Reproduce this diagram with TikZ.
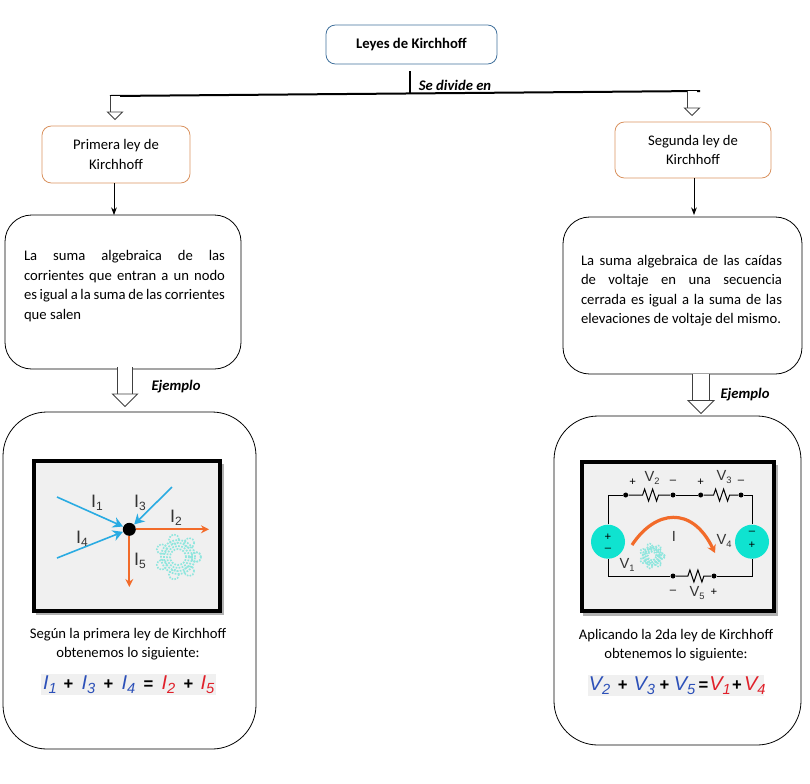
\documentclass[tikz,border=0pt]{standalone}
\usepackage{fontspec}
\setmainfont{Carlito}
\newfontfamily\arialfont{Liberation Sans}
\usetikzlibrary{arrows.meta,decorations.pathmorphing}

\def\px{.75pt}
\definecolor{azulcorr}{HTML}{29ABE2}
\definecolor{naranja}{HTML}{F26B2A}
\definecolor{turquesa}{HTML}{0FE3D0}
\definecolor{engranaje}{HTML}{8FE6DE}
\definecolor{fondo}{HTML}{F0F0F0}
\definecolor{azuleq}{HTML}{2C50B8}
\definecolor{rojoeq}{HTML}{E0202A}
\definecolor{bordeazul}{HTML}{41719C}
\definecolor{bordenaranja}{HTML}{D9925F}

\newcommand{\letra}{\fontsize{11}{14.6}\selectfont}
\newcommand{\magn}[2]{{\arialfont\color{black!80}\fontsize{13.5}{14}\selectfont #1\raisebox{-.35ex}{\fontsize{9}{9}\selectfont #2}}}
\newcommand{\volt}[1]{{\arialfont\color{black!80}\fontsize{11}{12}\selectfont V\raisebox{-.4ex}{\fontsize{7}{7}\selectfont #1}}}
\newcommand{\eqterm}[3]{{\arialfont\fontsize{15}{16}\selectfont\itshape\textcolor{#1}{#2\raisebox{-.35ex}{\fontsize{11}{11}\selectfont #3}}}}
\newcommand{\eqop}[1]{{\arialfont\fontsize{12.5}{16}\selectfont\bfseries #1}}
\newcommand{\celda}[2]{\makebox[.75\dimexpr#1pt\relax]{#2}}

\tikzset{
    titulo/.style={draw=bordeazul, rounded corners=7pt, outer sep=0pt, inner sep=0pt, align=center, font=\letra\bfseries},
    ley/.style={draw=bordenaranja, rounded corners=7pt, outer sep=0pt, inner sep=0pt, align=center, font=\letra},
    cuadro/.style={draw=black, rounded corners=20pt, outer sep=0pt, inner sep=0pt},
    ejemplo/.style={draw=black, rounded corners=33pt, outer sep=0pt, inner sep=0pt},
    lamina/.style={draw=black, line width=4*\px, fill=fondo, outer sep=0pt, inner sep=0pt},
    parrafo/.style={align=justify, text width=#1*\px, inner sep=0pt, font=\letra},
    leyenda/.style={align=center, font=\letra},
    franja/.style={fill=fondo, inner sep=0pt, minimum height=21*\px, anchor=west},
    etiqueta/.style={font=\letra\bfseries\itshape},
    hueca/.style 2 args={draw=black!75, double=white, double distance=#1*\px, line width=.7pt,
        -{Triangle[open, length=#2*.5*\px, width=#2*\px, line width=.6pt]}},
    signo/.style={font=\arialfont\fontsize{8.5}{8.5}\selectfont, inner sep=0pt},
    punto/.style={circle, fill=black, inner sep=0pt, minimum size=5*\px},
    fuente/.style={circle, fill=turquesa, inner sep=0pt, minimum size=34*\px},
    nudo/.style={circle, fill=black, inner sep=0pt, minimum size=13*\px},
    entra/.style={draw=azulcorr, line width=1.2pt, -{Stealth[length=10*\px, width=11*\px]}},
    sale/.style={draw=naranja, line width=1.3pt, -{Stealth[length=8*\px, width=8*\px]}},
    hilo/.style={draw=black, line width=.75pt},
    resistor/.style 2 args={hilo, decorate, decoration={zigzag, amplitude=6*\px, segment length=8*\px, pre length=#1*\px, post length=#2*\px}},
    engrane/.pic={
        \foreach \a in {0,51.4,...,360}
            \draw[engranaje, line width=1.2pt, densely dotted] (\a:18*\px) circle[radius=5*\px];
        \foreach \r in {8,11,14,17}
            \draw[engranaje, line width=1.3pt, densely dotted] (0,0) circle[radius=\r*\px];
    }
}

\begin{document}
\begin{tikzpicture}
            [x=\px, y=-\px, >=Stealth, semithick]
            \useasboundingbox (0, 0) rectangle (810, 783);

            % cajas superiores
            \node[titulo, minimum width=171*\px, minimum height=39*\px] (leyes) at (411.5, 44.5) {\raisebox{1.5pt}{Leyes de Kirchhoff}};
            \node[ley, minimum width=148*\px, minimum height=57*\px] (primera) at (116, 154.5) {Primera ley de\\Kirchhoff};
            \node[ley, minimum width=156*\px, minimum height=56*\px] (segunda) at (693, 150) {Segunda ley de\\Kirchhoff};

            % enunciados
            \node[cuadro, minimum width=236*\px, minimum height=154*\px] (sumaizq) at (123, 292) {};
            \node[parrafo=201] (textoizq) at (124.5, 286) {La suma algebraica de las\linebreak corrientes que entran a un nodo\linebreak es igual a la suma de las corrientes\linebreak que salen};
            \node[cuadro, minimum width=239*\px, minimum height=157*\px] (sumader) at (682.5, 295.5) {};
            \node[parrafo=201] (textoder) at (681.5, 290.5) {La suma algebraica de las caídas\linebreak de voltaje en una secuencia\linebreak cerrada es igual a la suma de las\linebreak elevaciones de voltaje del mismo.};

            % ejemplos
            \node[ejemplo, minimum width=253*\px, minimum height=337*\px] (ejemploizq) at (129.5, 580.5) {};
            \node[ejemplo, minimum width=247*\px, minimum height=329*\px] (ejemploder) at (677.5, 580.5) {};

            % ramas
            \coordinate (arranque) at (410, 71);
            \coordinate (ramaizq) at (110, 96);
            \coordinate (ramader) at (700, 91);
            \coordinate (cruce) at (410, 93.5);
            \coordinate (bajaizq) at (115, 96);
            \coordinate (bajader) at (692, 91);
            \coordinate (llegaizq) at (115, 120);
            \coordinate (llegader) at (692, 116);
            \coordinate (salidaizq) at (125, 367);
            \coordinate (salidader) at (701, 374);
            \coordinate (entradaizq) at (125, 407);
            \coordinate (entradader) at (701, 414);
            \draw[line width=1.5pt] (ramaizq) -- (ramader);
            \draw[line width=1.5pt] (arranque) -- (cruce);
            \draw[hueca={9}{17}] (bajaizq) -- (llegaizq);
            \draw[hueca={9}{17}] (bajader) -- (llegader);
            \path[->] ([xshift=-2*\px]primera.south) edge ([xshift=-2*\px]primera.south |- sumaizq.north);
            \path[->] ([xshift=1*\px]segunda.south) edge ([xshift=1*\px, yshift=2*\px]segunda.south |- sumader.north);
            \draw[hueca={14}{27}] (salidaizq) -- (entradaizq);
            \draw[hueca={16}{28}] (salidader) -- (entradader);

            \node[etiqueta, anchor=west] (divide) at (414, 85) {Se divide en};
            \node[etiqueta] (ejizq) at (176, 387) {Ejemplo};
            \node[etiqueta] (ejder) at (745, 395) {Ejemplo};

            % lamina de corrientes
            \fill[black!30] (36, 464) rectangle (224, 615);
            \node[lamina, minimum width=186*\px, minimum height=150*\px] (laminaizq) at (127, 536) {};
            \pic at (178, 557) {engrane};
            \node[nudo] (nodo) at (129.3, 529.3) {};
            \coordinate (i1) at (57, 497);
            \coordinate (i3) at (172, 487);
            \coordinate (i4) at (57, 558);
            \coordinate (i2) at (209, 529.3);
            \coordinate (i5) at (129.3, 587);
            \draw[entra] (i1) -- (nodo);
            \draw[entra] (i3) -- (nodo);
            \draw[entra] (i4) -- (nodo);
            \draw[sale] (nodo) -- (i2);
            \draw[sale] (nodo) -- (i5);
            \node (ei1) at (97, 503) {\magn{I}{1}};
            \node (ei3) at (140, 503) {\magn{I}{3}};
            \node (ei2) at (176, 518) {\magn{I}{2}};
            \node (ei4) at (82, 539) {\magn{I}{4}};
            \node (ei5) at (140, 561) {\magn{I}{5}};

            % lamina del circuito
            \fill[black!30] (583, 465) rectangle (778, 616);
            \node[lamina, minimum width=192*\px, minimum height=149*\px] (laminader) at (678, 536.5) {};
            \pic[scale=.55] at (652, 556) {engrane};
            \node[fuente] (v1) at (608, 541.7) {};
            \node[fuente] (v4) at (752, 541.7) {};
            \node[punto] (a) at (625.7, 495) {};
            \node[punto] (b) at (673, 495) {};
            \node[punto] (c) at (700.7, 495) {};
            \node[punto] (d) at (741, 495) {};
            \node[punto] (e) at (673, 576) {};
            \node[punto] (f) at (714, 576) {};
            \draw[hilo] (v1.north) |- (a);
            \draw[hilo] (b) -- (c);
            \draw[hilo] (d) -| (v4.north);
            \draw[hilo] (v4.south) |- (f);
            \draw[hilo] (e) -| (v1.south);
            \draw[resistor={14}{9}] (a) -- (b);
            \draw[resistor={10}{5}] (c) -- (d);
            \draw[resistor={12}{6}] (e) -- (f);
            \coordinate (arcoini) at (632, 545);
            \coordinate (arcofin) at (715, 553);
            \draw[draw=naranja, line width=2.4pt, -{Stealth[length=8*\px, width=9*\px]}] (arcoini) .. controls (655, 510) and (692, 505) .. (arcofin);
            \node[signo] (ma1) at (608, 537.5) {+};
            \node[signo] (me1) at (608, 550) {–};
            \node[signo] (me4) at (752, 533) {–};
            \node[signo] (ma4) at (752, 545) {+};
            \node[signo] (sa) at (632.7, 482) {+};
            \node (ev2) at (652, 478) {\volt{2}};
            \node[signo] (sb) at (673, 482) {–};
            \node[signo] (sc) at (700.7, 482) {+};
            \node (ev3) at (724, 477) {\volt{3}};
            \node[signo] (sd) at (741, 482) {–};
            \node (ev1) at (627, 565) {\volt{1}};
            \node (ei) at (674, 536) {{\arialfont\color{black!80}\fontsize{11}{12}\selectfont I}};
            \node (ev4) at (724, 541) {\volt{4}};
            \node[signo] (se) at (673, 592) {–};
            \node (ev5) at (697, 593) {\volt{5}};
            \node[signo] (sf) at (714, 592) {+};

            % leyendas y ecuaciones
            \node[leyenda] (leyendaizq) at (128, 644) {Según la primera ley de Kirchhoff\\obtenemos lo siguiente:};
            \node[leyenda] (leyendader) at (676, 645) {Aplicando la 2da ley de Kirchhoff\\obtenemos lo siguiente:};
            \node[franja, minimum width=175*\px] (ecuizq) at (41, 684.5) {\celda{17}{\eqterm{azuleq}{I}{1}}\celda{20}{\eqop{+}}\celda{20}{\eqterm{azuleq}{I}{3}}\celda{20}{\eqop{+}}\celda{20}{\eqterm{azuleq}{I}{4}}\celda{20}{\eqop{=}}\celda{20}{\eqterm{rojoeq}{I}{2}}\celda{20}{\eqop{+}}\celda{18}{\eqterm{rojoeq}{I}{5}}};
            \node[franja, minimum width=176*\px] (ecuder) at (588, 685.5) {\celda{22.5}{\eqterm{azuleq}{V}{2}}\celda{23.5}{\eqop{+}}\celda{20}{\eqterm{azuleq}{V}{3}}\celda{20}{\eqop{+}}\celda{20.5}{\eqterm{azuleq}{V}{5}}\celda{17}{\eqop{=}}\celda{16.5}{\eqterm{rojoeq}{V}{1}}\celda{17}{\eqop{+}}\celda{19}{\eqterm{rojoeq}{V}{4}}};
        \end{tikzpicture}
\end{document}
